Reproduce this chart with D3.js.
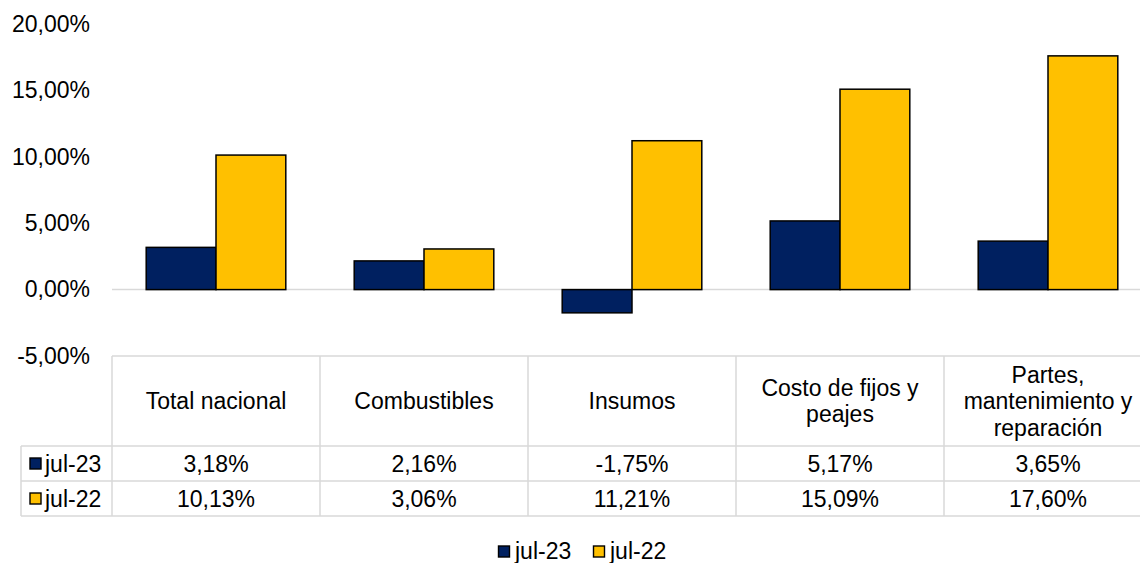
<!DOCTYPE html>
<html>
<head>
<meta charset="utf-8">
<script src="https://cdn.jsdelivr.net/npm/d3@7"></script>
<style>
  body { margin: 0; background: #fff; }
  svg text { font-family: "Liberation Sans", Arial, sans-serif; fill: #000; }
</style>
</head>
<body>
<div id="root"></div>
<script>
// chart data
const categories = ["Total nacional", "Combustibles", "Insumos", "Costo de fijos y peajes", "Partes, mantenimiento y reparación"];
const categoryLines = [["Total nacional"], ["Combustibles"], ["Insumos"], ["Costo de fijos y", "peajes"], ["Partes,", "mantenimiento y", "reparación"]];
const seriesNames = ["jul-23", "jul-22"];
const jul23 = [3.18, 2.16, -1.75, 5.17, 3.65];
const jul22 = [10.13, 3.06, 11.21, 15.09, 17.60];
const yTicks = [-5, 0, 5, 10, 15, 20];

const colors = ["#002060", "#FFC000"];
const width = 1140, height = 563;
const plot = { left: 112, right: 1152, top: 24, bottom: 356 };
const fontSize = 23;

const fmt = (v) => v.toFixed(2).replace(".", ",") + "%";

const svg = d3.select("#root")
  .append("svg")
  .attr("width", width)
  .attr("height", height)
  .attr("viewBox", [0, 0, width, height]);

const x = d3.scaleBand()
  .domain(categories)
  .range([plot.left, plot.right]);

const x1 = d3.scaleBand()
  .domain(seriesNames)
  .range([0, x.bandwidth()])
  .paddingOuter(0.49)
  .paddingInner(0);

const y = d3.scaleLinear()
  .domain([-5, 20])
  .range([plot.bottom, plot.top]);

// y axis labels (no line, no ticks)
const yAxis = svg.append("g")
  .attr("transform", `translate(${plot.left - 22}, 0)`)
  .call(d3.axisLeft(y).tickValues(yTicks).tickFormat(fmt).tickSize(0).tickPadding(0));
yAxis.select(".domain").remove();
yAxis.selectAll("text")
  .attr("font-size", fontSize)
  .attr("font-family", "Liberation Sans, Arial, sans-serif")
  .attr("fill", "#000");

// zero line
svg.append("line")
  .attr("x1", plot.left).attr("x2", width)
  .attr("y1", y(0)).attr("y2", y(0))
  .attr("stroke", "#d9d9d9").attr("stroke-width", 1.5);

// bars
const series = [jul23, jul22];
const groups = svg.append("g").selectAll("g")
  .data(series)
  .join("g")
  .attr("fill", (d, i) => colors[i]);

groups.selectAll("rect")
  .data((vals, si) => vals.map((v, ci) => ({ v, ci, s: seriesNames[si] })))
  .join("rect")
  .attr("x", (d) => x(categories[d.ci]) + x1(d.s))
  .attr("width", x1.bandwidth())
  .attr("y", (d) => y(Math.max(0, d.v)))
  .attr("height", (d) => Math.abs(y(d.v) - y(0)))
  .attr("stroke", "#000")
  .attr("stroke-width", 1.5);

// data table
const table = { top: 356, headBottom: 446, row1: 481, row2: 516, labelLeft: 21 };
const grid = svg.append("g")
  .attr("stroke", "#d9d9d9")
  .attr("stroke-width", 1.5)
  .attr("fill", "none");

grid.append("line").attr("x1", plot.left).attr("x2", plot.right).attr("y1", table.top).attr("y2", table.top);
[table.headBottom, table.row1, table.row2].forEach((yy) => {
  grid.append("line").attr("x1", table.labelLeft).attr("x2", plot.right).attr("y1", yy).attr("y2", yy);
});
grid.append("line").attr("x1", table.labelLeft).attr("x2", table.labelLeft).attr("y1", table.headBottom).attr("y2", table.row2);
categories.forEach((c) => {
  grid.append("line").attr("x1", x(c)).attr("x2", x(c)).attr("y1", table.top).attr("y2", table.row2);
});

// header text, lines centred on the cell
const head = svg.append("g");
const lineH = 26.5;
categories.forEach((c, i) => {
  const lines = categoryLines[i];
  const cx = x(c) + x.bandwidth() / 2;
  const first = 409 - (lineH / 2) * (lines.length - 1);
  const t = head.append("text")
    .attr("text-anchor", "middle")
    .attr("font-size", fontSize);
  lines.forEach((ln, li) => {
    t.append("tspan")
      .attr("x", cx)
      .attr("y", first + li * lineH)
      .text(ln);
  });
});

// value rows
const rows = [
  { name: seriesNames[0], vals: jul23, top: table.headBottom, bot: table.row1, color: colors[0] },
  { name: seriesNames[1], vals: jul22, top: table.row1, bot: table.row2, color: colors[1] }
];
rows.forEach((r) => {
  const my = (r.top + r.bot) / 2;
  svg.append("rect")
    .attr("x", 30).attr("y", my - 5.5)
    .attr("width", 11).attr("height", 11)
    .attr("fill", r.color).attr("stroke", "#000").attr("stroke-width", 1.4);
  svg.append("text")
    .attr("x", 45).attr("y", my + 8)
    .attr("font-size", fontSize)
    .text(r.name);
  r.vals.forEach((v, i) => {
    svg.append("text")
      .attr("x", x(categories[i]) + x.bandwidth() / 2)
      .attr("y", my + 8)
      .attr("text-anchor", "middle")
      .attr("font-size", fontSize)
      .text(fmt(v));
  });
});

// legend
const legend = svg.append("g").attr("transform", "translate(498, 559)");
const legendX = [0, 95];
seriesNames.forEach((s, i) => {
  const g = legend.append("g").attr("transform", `translate(${legendX[i]}, 0)`);
  g.append("rect")
    .attr("x", 0.5).attr("y", -13)
    .attr("width", 11).attr("height", 11)
    .attr("fill", colors[i]).attr("stroke", "#000").attr("stroke-width", 1.4);
  g.append("text")
    .attr("x", 17).attr("y", 0)
    .attr("font-size", fontSize)
    .text(s);
});
</script>
</body>
</html>
